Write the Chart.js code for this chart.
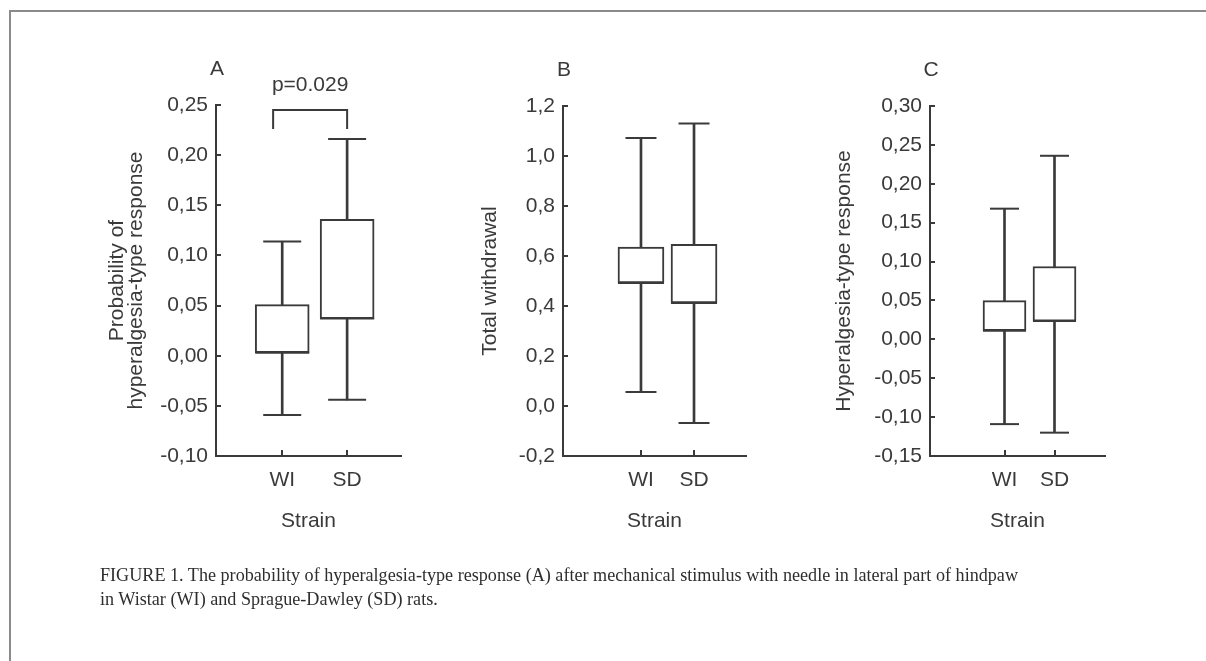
<!DOCTYPE html>
<html>
<head>
<meta charset="utf-8">
<script src="https://cdn.jsdelivr.net/npm/chart.js@4.4.0/dist/chart.umd.min.js"></script>
<style>
html, body { margin: 0; padding: 0; background: #fff; }
#page { position: relative; width: 1206px; height: 661px; overflow: hidden; background: #fff; }
#page canvas { position: absolute; left: 0; top: 0; }
.frame-top { position: absolute; left: 9px; top: 10px; width: 1197px; height: 0; border-top: 2px solid #8a8a8a; }
.frame-left { position: absolute; left: 9px; top: 10px; width: 0; height: 660px; border-left: 2px solid #8a8a8a; }
#caption { position: absolute; left: 100px; top: 563px; font-family: "Liberation Serif", "Times New Roman", serif;
  font-size: 18px; line-height: 24px; color: #2e2e2e; white-space: nowrap; transform-origin: 0 0; }
</style>
</head>
<body>
<div id="page">
  <div class="frame-top"></div>
  <div class="frame-left"></div>
  <canvas id="chartA" width="1206" height="661"></canvas>
  <canvas id="chartB" width="1206" height="661"></canvas>
  <canvas id="chartC" width="1206" height="661"></canvas>
  <div id="caption">
    <div id="capLine1">FIGURE 1. The probability of hyperalgesia-type response (A) after mechanical stimulus with needle in lateral part of hindpaw</div>
    <div>in Wistar (WI) and Sprague-Dawley (SD) rats.</div>
  </div>
</div>
<script>
(function () {
    "use strict";

    // categories on the x axis
    const strains = ["WI", "SD"];
    const strainPos = [1, 2];

    // A: probability of hyperalgesia-type response
    const probMin = [-0.059, -0.044];
    const probQ1 = [0.003, 0.037];
    const probMedian = [0.003, 0.037];
    const probQ3 = [0.051, 0.136];
    const probMax = [0.114, 0.216];
    const probTicks = [-0.10, -0.05, 0.00, 0.05, 0.10, 0.15, 0.20, 0.25];

    // B: total withdrawal
    const withdrawMin = [0.056, -0.068];
    const withdrawQ1 = [0.492, 0.412];
    const withdrawMedian = [0.492, 0.412];
    const withdrawQ3 = [0.636, 0.647];
    const withdrawMax = [1.072, 1.130];
    const withdrawTicks = [-0.2, 0.0, 0.2, 0.4, 0.6, 0.8, 1.0, 1.2];

    // C: hyperalgesia-type response
    const hyperMin = [-0.109, -0.120];
    const hyperQ1 = [0.011, 0.0235];
    const hyperMedian = [0.011, 0.0235];
    const hyperQ3 = [0.0497, 0.0937];
    const hyperMax = [0.168, 0.236];
    const hyperTicks = [-0.15, -0.10, -0.05, 0.00, 0.05, 0.10, 0.15, 0.20, 0.25, 0.30];

    // significance bracket in panel A
    const bracketX = [0.86, 2.0];
    const bracketTop = 0.245;
    const bracketFoot = 0.226;
    const bracketLabel = "p=0.029";
    const bracketLabelY = 0.270;

    const ink = "#3a3a3a";
    const sans = "'Liberation Sans', Arial, sans-serif";

    Chart.defaults.font.family = sans;
    Chart.defaults.color = ink;

    function fmt(value, decimals) {
        if (Math.abs(value) < 1e-9) value = 0;
        return value.toFixed(decimals).replace(".", ",");
    }

    // tick marks pointing into the plot, like the original
    const innerTicks = {
        id: "innerTicks",
        afterDraw(chart) {
            const ctx = chart.ctx;
            const area = chart.chartArea;
            const xs = chart.scales.x;
            const ys = chart.scales.y;
            ctx.save();
            ctx.strokeStyle = ink;
            ctx.lineWidth = 2;
            ys.ticks.forEach(function (t) {
                const y = Math.round(ys.getPixelForValue(t.value));
                ctx.beginPath();
                ctx.moveTo(area.left, y);
                ctx.lineTo(area.left + 5, y);
                ctx.stroke();
            });
            xs.ticks.forEach(function (t) {
                const x = Math.round(xs.getPixelForValue(t.value));
                ctx.beginPath();
                ctx.moveTo(x, area.bottom);
                ctx.lineTo(x, area.bottom - 6);
                ctx.stroke();
            });
            ctx.restore();
        }
    };

    // panel letter and optional p-value bracket
    const panelDecor = {
        id: "panelDecor",
        afterDraw(chart, args, opts) {
            const ctx = chart.ctx;
            const area = chart.chartArea;
            const xs = chart.scales.x;
            const ys = chart.scales.y;
            ctx.save();
            ctx.fillStyle = ink;
            ctx.font = "21px " + sans;
            ctx.textAlign = "center";
            ctx.textBaseline = "middle";
            ctx.fillText(opts.letter, area.left + 1, area.top - 36);
            if (opts.bracket) {
                const b = opts.bracket;
                const x1 = xs.getPixelForValue(b.x[0]);
                const x2 = xs.getPixelForValue(b.x[1]);
                const yt = ys.getPixelForValue(b.top);
                const yf = ys.getPixelForValue(b.foot);
                ctx.strokeStyle = ink;
                ctx.lineWidth = 2;
                ctx.beginPath();
                ctx.moveTo(x1, yf);
                ctx.lineTo(x1, yt);
                ctx.lineTo(x2, yt);
                ctx.lineTo(x2, yf);
                ctx.stroke();
                ctx.fillText(b.label, (x1 + x2) / 2, ys.getPixelForValue(b.labelY));
            }
            ctx.restore();
        }
    };

    function boxDatasets(mins, q1s, medians, q3s, maxs, boxW, capW) {
        const pts = function (arr) {
            return strainPos.map(function (x, i) { return {x: x, y: arr[i]}; });
        };
        return [
            {
                type: "bar",
                data: strainPos.map(function (x, i) { return {x: x, y: [mins[i], maxs[i]]}; }),
                barThickness: 2,
                backgroundColor: ink,
                borderWidth: 0,
                grouped: false,
                order: 4,
            },
            {
                type: "bar",
                data: strainPos.map(function (x, i) { return {x: x, y: [q1s[i], q3s[i]]}; }),
                barThickness: boxW,
                backgroundColor: "#ffffff",
                borderColor: ink,
                borderWidth: 2,
                borderSkipped: false,
                grouped: false,
                order: 3,
            },
            {
                type: "scatter",
                data: pts(mins).concat(pts(maxs)),
                pointStyle: "line",
                pointRadius: capW / 2,
                pointBorderWidth: 2,
                pointBorderColor: ink,
                order: 2,
            },
            {
                type: "scatter",
                data: pts(medians),
                pointStyle: "line",
                pointRadius: boxW / 2,
                pointBorderWidth: 2,
                pointBorderColor: ink,
                order: 1,
            },
        ];
    }

    function renderPanel(id, p) {
        const ctx = document.getElementById(id).getContext("2d");
        return new Chart(ctx, {
            type: "bar",
            data: {
                datasets: boxDatasets(p.mins, p.q1s, p.medians, p.q3s, p.maxs, p.boxW, p.capW),
            },
            plugins: [innerTicks, panelDecor],
            options: {
                responsive: false,
                animation: false,
                devicePixelRatio: 1,
                layout: {
                    padding: {
                        left: p.area[0] - p.yWidth,
                        top: p.area[1],
                        right: 1206 - p.area[2],
                        bottom: 661 - p.area[3] - 82,
                    },
                },
                plugins: {
                    legend: {display: false},
                    tooltip: {enabled: false},
                    panelDecor: {letter: p.letter, bracket: p.bracket},
                },
                scales: {
                    x: {
                        type: "linear",
                        min: p.xRange[0],
                        max: p.xRange[1],
                        offset: false,
                        bounds: "data",
                        afterBuildTicks: function (scale) {
                            scale.ticks = strainPos.map(function (v) { return {value: v}; });
                        },
                        afterFit: function (scale) { scale.height = 82; },
                        ticks: {
                            autoSkip: false,
                            maxRotation: 0,
                            padding: 12,
                            color: ink,
                            font: {size: 21},
                            callback: function (value) { return strains[strainPos.indexOf(value)]; },
                        },
                        grid: {display: false, drawTicks: false},
                        border: {display: true, color: ink, width: 2},
                        title: {
                            display: true,
                            text: "Strain",
                            color: ink,
                            font: {size: 21},
                            padding: {top: 4, bottom: 4},
                        },
                    },
                    y: {
                        type: "linear",
                        min: p.yTicks[0],
                        max: p.yTicks[p.yTicks.length - 1],
                        bounds: "data",
                        afterBuildTicks: function (scale) {
                            scale.ticks = p.yTicks.map(function (v) { return {value: v}; });
                        },
                        afterFit: function (scale) { scale.width = p.yWidth; },
                        ticks: {
                            autoSkip: false,
                            padding: 8,
                            color: ink,
                            font: {size: 21},
                            callback: function (value) { return fmt(value, p.decimals); },
                        },
                        grid: {display: false, drawTicks: false},
                        border: {display: true, color: ink, width: 2},
                        title: {
                            display: true,
                            text: p.yTitle,
                            color: ink,
                            font: {size: 21, lineHeight: 0.9},
                            padding: {top: 4, bottom: 4},
                        },
                    },
                },
            },
        });
    }

    renderPanel("chartA", {
        mins: probMin, q1s: probQ1, medians: probMedian, q3s: probQ3, maxs: probMax,
        yTicks: probTicks, decimals: 2,
        yTitle: ["Probability of", "hyperalgesia-type response"],
        letter: "A",
        bracket: {x: bracketX, top: bracketTop, foot: bracketFoot, label: bracketLabel, labelY: bracketLabelY},
        area: [216, 105, 401, 456], yWidth: 112, xRange: [-0.02, 2.83],
        boxW: 54, capW: 38,
    });

    renderPanel("chartB", {
        mins: withdrawMin, q1s: withdrawQ1, medians: withdrawMedian, q3s: withdrawQ3, maxs: withdrawMax,
        yTicks: withdrawTicks, decimals: 1,
        yTitle: "Total withdrawal",
        letter: "B",
        bracket: null,
        area: [563, 106, 746, 456], yWidth: 86, xRange: [-0.47, 2.98],
        boxW: 46, capW: 31,
    });

    renderPanel("chartC", {
        mins: hyperMin, q1s: hyperQ1, medians: hyperMedian, q3s: hyperQ3, maxs: hyperMax,
        yTicks: hyperTicks, decimals: 2,
        yTitle: "Hyperalgesia-type response",
        letter: "C",
        bracket: null,
        area: [930, 106, 1105, 456], yWidth: 99, xRange: [-0.49, 3.01],
        boxW: 43, capW: 29,
    });

    // squeeze the caption to the width of the original condensed face
    const line1 = document.getElementById("capLine1");
    const w = line1.getBoundingClientRect().width;
    document.getElementById("caption").style.transform = "scaleX(" + (918 / w) + ")";
})();
</script>
</body>
</html>
